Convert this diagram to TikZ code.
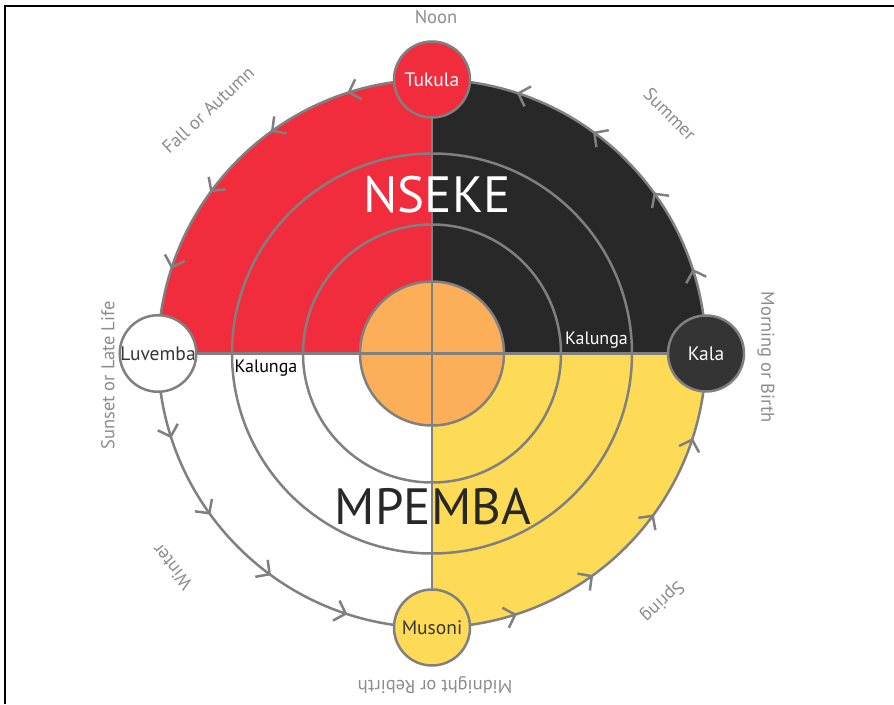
\documentclass[tikz,border=0pt]{standalone}
\usepackage{fontspec}
\setmainfont{PT Sans}
\usetikzlibrary{arrows.meta,decorations.markings}

\definecolor{nsekered}{RGB}{241,45,61}
\definecolor{nsekeblack}{RGB}{40,40,40}
\definecolor{mpembayellow}{RGB}{254,219,86}
\definecolor{kalungaorange}{RGB}{252,174,88}
\definecolor{linegray}{RGB}{128,128,128}
\definecolor{kalagray}{RGB}{52,52,52}
\definecolor{labelgray}{RGB}{140,140,140}
\definecolor{textdark}{RGB}{55,55,55}

\begin{document}
\begin{tikzpicture}[
  x=1pt, y=1pt,
  > = {Straight Barb[length=10pt,width=21pt,line width=2.5pt]},
  ring/.style = {draw=linegray, line width=2.5pt},
  stage/.style = {circle, draw=linegray, line width=2.5pt, minimum size=76pt, inner sep=0pt, font=\fontsize{19.5}{22}\selectfont},
  season/.style = {text=labelgray, font=\fontsize{18.5}{21}\selectfont},
  kalunga/.style = {font=\fontsize{18}{21}\selectfont},
  realm/.style = {font=\fontsize{51}{60}\selectfont},
  arrow marks/.style = {postaction=decorate,decoration={markings,mark=between positions 0.05 and 0.96 step 0.05 with {\arrow{>}}}}
  ]
	\useasboundingbox (-432,-350.5) rectangle (462,353.5);
	\draw[line width=2pt] (-427,-350.5) |- (462,347.5);

	\coordinate (@noon) at (90:274);
	\coordinate (@sunset) at (180:274);
	\coordinate (@midnight) at (270:274);
	\coordinate (@morning) at (0:274);

	% quadrants
	\fill[nsekered] (0,0) -- (@noon) arc (90:180:274) -- cycle;
	\fill[nsekeblack] (0,0) -- (@morning) arc (0:90:274) -- cycle;
	\fill[mpembayellow] (0,0) -- (@midnight) arc (270:360:274) -- cycle;

	\draw[ring] (0,0) circle (200);
	\draw[ring] (0,0) circle (129);
	\draw[ring, fill=kalungaorange] (0,0) circle (72);

	\draw[ring] (@sunset) to (@morning);
	\draw[ring] (@noon) to (@midnight);

	% cycle of the sun
	\draw[ring, arrow marks] (@morning) arc (0:360:274);

	\node[stage, fill=nsekered, text=white] (tukula) at (@noon) {Tukula};
	\node[stage, fill=white, text=textdark] (luvemba) at (@sunset) {Luvemba};
	\node[stage, fill=mpembayellow, text=textdark] (musoni) at (@midnight) {Musoni};
	\node[stage, fill=kalagray, text=white] (kala) at (@morning) {Kala};

	\node[realm, text=white] (nseke) at (5,158.5) {NSEKE};
	\node[realm, text=nsekeblack] (mpemba) at (1,-153.5) {MPEMBA};
	\node[kalunga, text=white] (kalunga-e) at (164.5,13.5) {Kalunga};
	\node[kalunga, text=black] (kalunga-w) at (-166,-14.5) {Kalunga};

	\node[season] (noon) at (4,336.5) {Noon};
	\node[season, rotate=43] (fall) at (-224,243.5) {Fall or Autumn};
	\node[season, rotate=-45] (summer) at (238,239.5) {Summer};
	\node[season, rotate=-90] (morning) at (334,-3.5) {Morning or Birth};
	\node[season, rotate=-137] (spring) at (230,-247.5) {Spring};
	\node[season, rotate=180] (midnight) at (3,-332) {Midnight or Rebirth};
	\node[season, rotate=129] (winter) at (-260,-213.5) {Winter};
	\node[season, rotate=90] (sunset) at (-324,-22) {Sunset or Late Life};

\end{tikzpicture}
\end{document}
